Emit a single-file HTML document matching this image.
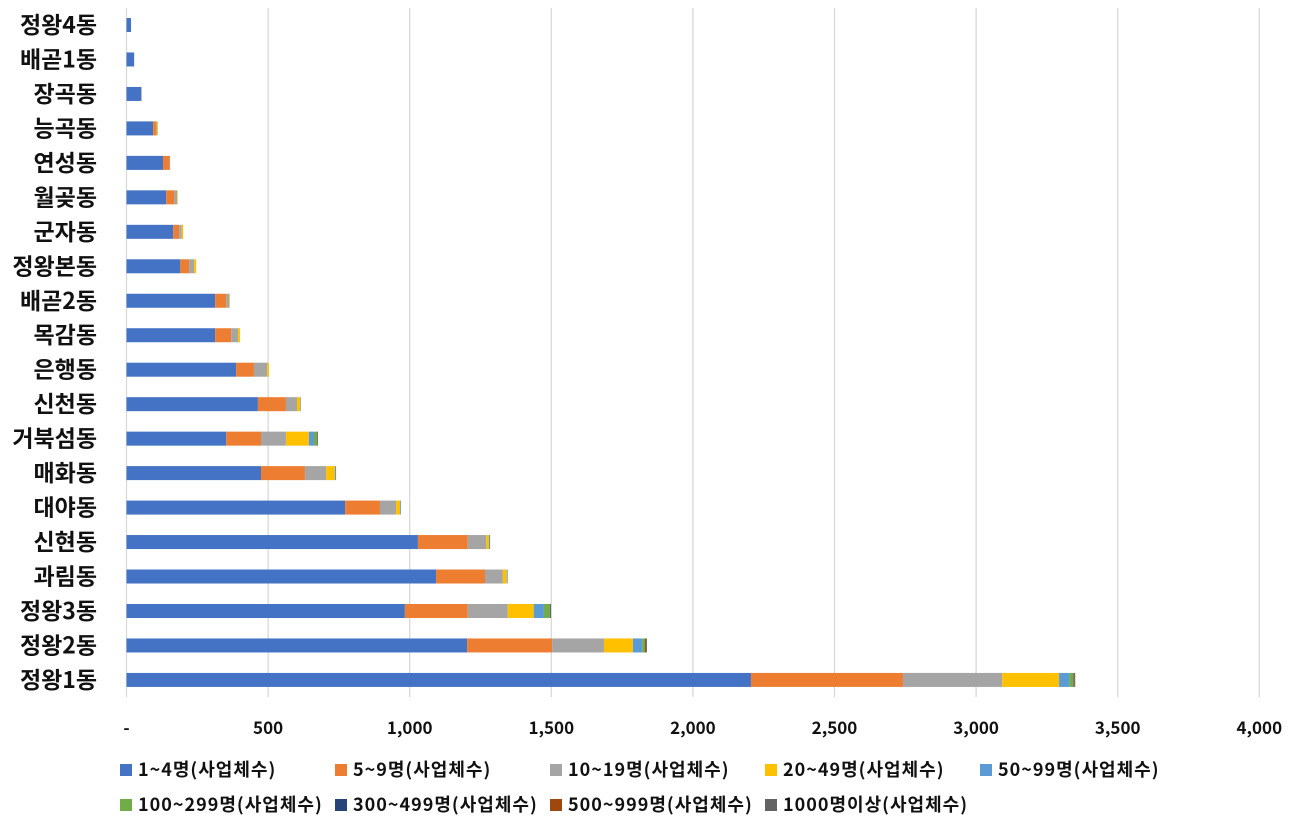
<!DOCTYPE html>
<html><head><meta charset="utf-8"><style>
body{margin:0;background:#fff;}
svg text{font-family:"Noto Sans CJK KR","Liberation Sans",sans-serif;font-weight:bold;}
</style></head><body>
<svg id="c" width="1303" height="828" xmlns="http://www.w3.org/2000/svg"></svg>
<script>
const categories=["정왕4동","배곧1동","장곡동","능곡동","연성동","월곶동","군자동","정왕본동","배곧2동","목감동","은행동","신천동","거북섬동","매화동","대야동","신현동","과림동","정왕3동","정왕2동","정왕1동"];
const seriesNames=["1~4명(사업체수)","5~9명(사업체수)","10~19명(사업체수)","20~49명(사업체수)","50~99명(사업체수)","100~299명(사업체수)","300~499명(사업체수)","500~999명(사업체수)","1000명이상(사업체수)"];
const s1=[16,27,52,94,129,140,165,190,313,313,387,464,352,475,772,1029,1093,983,1203,2205];
const s2=[0,0,0,11,23,28,21,31,39,57,63,99,123,155,123,176,173,222,300,537];
const s3=[0,0,2,3,2,11,9,18,11,24,47,39,88,75,57,65,63,141,183,350];
const s4=[0,0,0,3,0,2,5,7,2,7,6,12,81,31,14,10,14,92,102,201];
const s5=[0,0,0,0,0,0,0,0,0,0,0,2,18,4,3,4,3,36,33,36];
const s6=[0,0,0,0,0,0,0,0,0,0,0,0,11,0,0,0,0,21,10,14];
const s7=[0,0,0,0,0,0,0,0,0,0,0,0,0,0,0,0,0,0,0,2];
const s8=[0,0,0,0,0,0,0,0,0,0,0,0,0,0,0,0,0,0,4,3];
const s9=[0,0,0,0,0,0,0,0,0,0,0,0,3,0,0,0,0,4,3,2];
const series=[s1,s2,s3,s4,s5,s6,s7,s8,s9];
const colors=["#4472C4","#ED7D31","#A5A5A5","#FFC000","#5B9BD5","#70AD47","#264478","#9E480E","#636363"];
const ticks=[0,500,1000,1500,2000,2500,3000,3500,4000];
const tickLabels=["-","500","1,000","1,500","2,000","2,500","3,000","3,500","4,000"];
const svg=document.getElementById('c');
const NS="http://www.w3.org/2000/svg";
const x0=126.5,x1=1259.3,maxV=4000;
const X=v=>x0+(v/maxV)*(x1-x0);
const Y=i=>25+i*34.47;
function mk(t,a){const e=document.createElementNS(NS,t);for(const k in a)e.setAttribute(k,a[k]);svg.appendChild(e);return e;}
ticks.forEach((t,i)=>{
  const g=mk('line',{x1:X(t),x2:X(t),y1:8,y2:697,stroke:'#d9d9d9','stroke-width':1.3});
  
  
  const l=mk('text',{x:X(t),y:734,'text-anchor':'middle','font-size':17,fill:'#111'});
  l.textContent=tickLabels[i];
  
  
});
categories.forEach((c,i)=>{
  const t=mk('text',{x:97,y:Y(i)+8,'text-anchor':'end','font-size':23,fill:'#111'});
  t.textContent=c;
  
  
  let acc=0;
  series.forEach((s,j)=>{
    const v=s[i];if(!v)return;
    const r=mk('rect',{x:X(acc),y:Y(i)-7,width:X(acc+v)-X(acc),height:14,fill:colors[j]});
    
    
    acc+=v;
  });
});
const lx=[120,335,550,765,980];
seriesNames.forEach((n,j)=>{
  const row=j<5?0:1,col=j<5?j:j-5;
  const x=lx[col],y=row?805:770;
  const r=mk('rect',{x:x,y:y-6,width:12,height:12,fill:colors[j]});
  
  
  const t=mk('text',{x:x+18,y:y+6,'font-size':18,'letter-spacing':1,fill:'#111'});
  t.textContent=n;
  
  
});
</script>
</body></html>
